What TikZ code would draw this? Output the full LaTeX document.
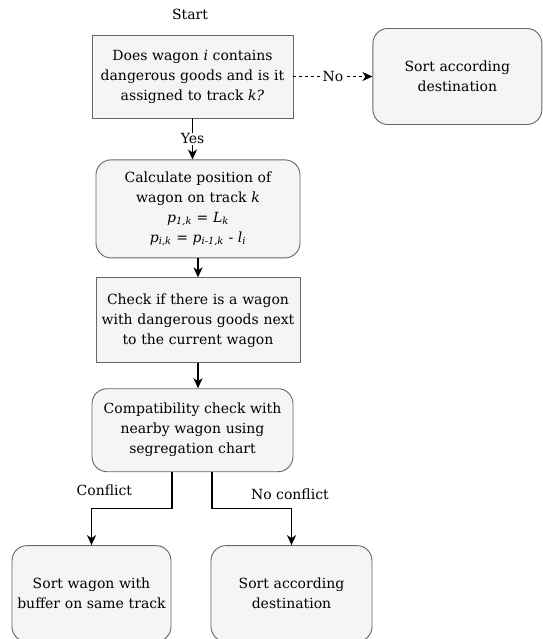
\documentclass[tikz,border=0pt]{standalone}
\usepackage{fontspec}
\setmainfont{DejaVu Serif}
\usetikzlibrary{arrows.meta, positioning}

\definecolor{boxfill}{HTML}{F5F5F5}
\definecolor{boxline}{HTML}{666666}

\tikzset{
	box/.style={draw=boxline, fill=boxfill, line width=0.9pt, align=center, inner sep=2pt,
		font=\fontsize{14}{20}\selectfont},
	rbox/.style={box, rounded corners=15pt},
	lbl/.style={font=\fontsize{14}{16}\selectfont, inner sep=1pt},
}

\begin{document}
\begin{tikzpicture}[>={Stealth[length=10pt, width=9pt, inset=3pt]}, line width=1.2pt]
	\useasboundingbox (-192.5pt,76.5pt) rectangle (349.5pt,-562.5pt);

	\node[box, text width=197pt, minimum height=83pt] (dg) {Does wagon \textit{i} contains\\dangerous goods and is it\\assigned to track \textit{k?}};
	\node[lbl, above=13pt of dg, xshift=-2.5pt] (start) {Start};
	\node[rbox, text width=165pt, minimum height=96pt, right=79pt of dg] (other) {Sort according\\destination};
	\node[rbox, text width=200pt, minimum height=98pt, below=41pt of dg, xshift=5.5pt] (pos) {Calculate position of\\wagon on track \textit{k}\\\textit{p}\textsubscript{\textit{1,k}} = \textit{L}\textsubscript{\textit{k}}\\\textit{p}\textsubscript{\textit{i,k}} = \textit{p}\textsubscript{\textit{i-1,k}} - \textit{l}\textsubscript{\textit{i}}};
	\node[box, text width=200pt, minimum height=85pt, below=19pt of pos] (next) {Check if there is a wagon\\with dangerous goods next\\to the current wagon};
	\node[rbox, text width=197pt, minimum height=83pt, below=25pt of next, xshift=-5.5pt] (compat) {Compatibility check with\\nearby wagon using\\segregation chart};
	\node[rbox, text width=155pt, minimum height=96pt, below=73pt of compat, xshift=-101pt] (buffer) {Sort wagon with\\buffer on same track};
	\node[rbox, text width=157pt, minimum height=96pt, below=73pt of compat, xshift=99pt] (dest) {Sort according\\destination};

	\draw[->, dashed] (dg) -- node[lbl, fill=white] {No} (other);
	\draw[->] (dg) -- node[lbl, fill=white] {Yes} (dg |- pos.north);
	\draw[->] (pos) -- (next);
	\draw[->] (next.south) -- (next.south |- compat.north);
	\draw[->] ([xshift=-20.5pt]compat.south) -- ++(0,-36pt) -| node[lbl, pos=0.42, above, yshift=11pt] {Conflict} (buffer);
	\draw[->] ([xshift=19.5pt]compat.south) -- ++(0,-36pt) -| node[lbl, pos=0.49, above, yshift=7pt] {No conflict} (dest);

\end{tikzpicture}
\end{document}
